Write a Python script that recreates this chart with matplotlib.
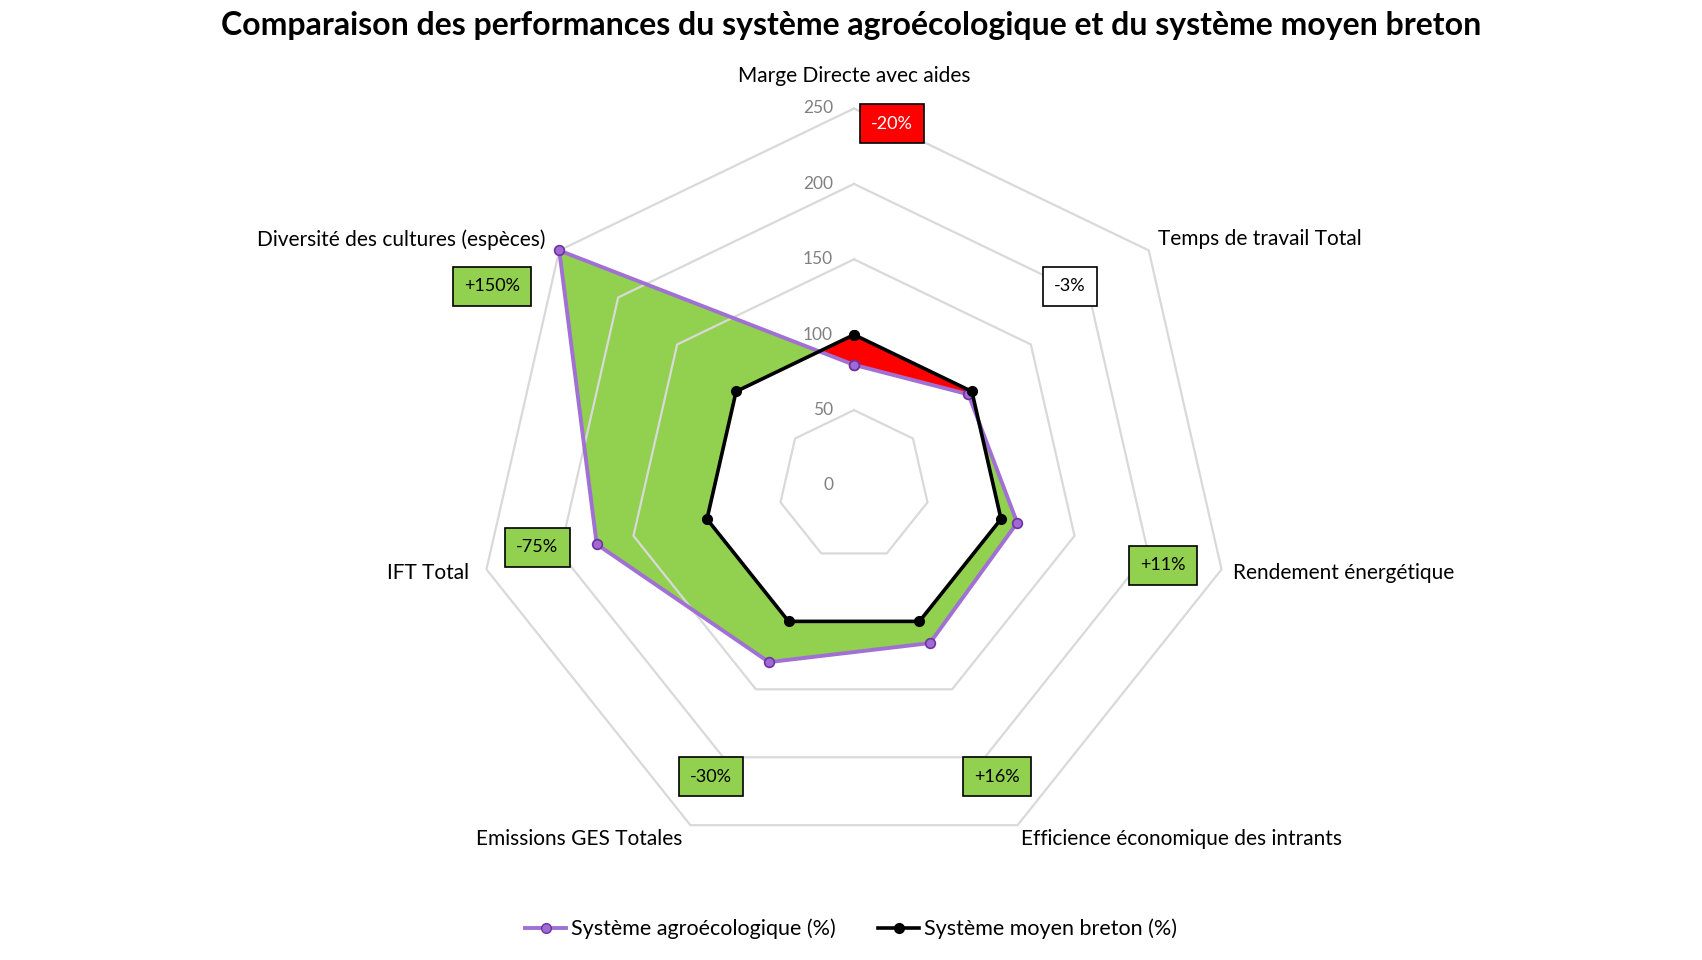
# -*- coding: utf-8 -*-
# Radar : système agroécologique vs système moyen breton
import numpy as np
import matplotlib.pyplot as plt
from matplotlib.patches import Polygon
from matplotlib.lines import Line2D

plt.rcParams['font.family'] = ['Lato', 'DejaVu Sans']

categories = ["Marge Directe avec aides", "Temps de travail Total",
              "Rendement énergétique", "Efficience économique des intrants",
              "Emissions GES Totales", "IFT Total", "Diversité des cultures (espèces)"]
agro = [80, 97, 111, 116, 130, 175, 250]
moyen = [100, 100, 100, 100, 100, 100, 100]
ecarts = ["-20%", "-3%", "+11%", "+16%", "-30%", "-75%", "+150%"]
ticks = [0, 50, 100, 150, 200, 250]

# where the boxes and labels go (data units / pixel offsets)
box_pos = [(25, 240), (143, 132), (205, -53), (95, -193), (-95, -193), (-210, -41), (-240, 132)]
box_col = ["#ff0000", "white", "#92d050", "#92d050", "#92d050", "#92d050", "#92d050"]
lab_off = [(0, 32, 'center'), (9, 11, 'left'), (11, -4, 'left'), (3, -14, 'left'),
           (-8, -14, 'right'), (-17, -4, 'right'), (-14, 11, 'right')]

n = len(categories)
ang = np.pi / 2 - 2 * np.pi * np.arange(n) / n


def xy(vals):
    v = np.asarray(vals, dtype=float)
    return np.column_stack([v * np.cos(ang), v * np.sin(ang)])


W, H = 1702, 960
cx, cy, scale = 854, 485.5, 377 / 250
fig = plt.figure(figsize=(W / 100, H / 100), dpi=100)
ax = fig.add_axes([0, 0, 1, 1])
ax.set_xlim(-cx / scale, (W - cx) / scale)
ax.set_ylim((cy - H) / scale, cy / scale)
ax.axis('off')

# fills
red = Polygon(xy(moyen), closed=True, fc="#ff0000", ec='none', zorder=2)
green = Polygon(xy(agro), closed=True, fc="#92d050", ec='none', zorder=3)
ax.add_patch(red)
ax.add_patch(green)
inner = Polygon(xy(moyen), closed=True, fc="white", ec='none', zorder=4)
ax.add_patch(inner)
inner.set_clip_path(green)

# grid
for t in ticks[1:]:
    p = xy([t] * n)
    p = np.vstack([p, p[:1]])
    ax.plot(p[:, 0], p[:, 1], color="#d9d9d9", lw=1.6, zorder=5)
for t in ticks:
    ax.annotate(str(t), (0, t), xytext=(-21, 0), textcoords='offset pixels',
                ha='right', va='center', fontsize=12.5, color="#808080", zorder=6)

# series
pa = xy(agro)
pa = np.vstack([pa, pa[:1]])
pm = xy(moyen)
pm = np.vstack([pm, pm[:1]])
ax.plot(pa[:, 0], pa[:, 1], color="#a070d4", lw=2.8, marker='o', ms=7,
        mfc="#9e6bd5", mec="#7030a0", mew=1.2, zorder=7)
ax.plot(pm[:, 0], pm[:, 1], color="black", lw=2.6, marker='o', ms=7,
        mfc="black", mec="black", zorder=8)

# category labels
outer = xy([250] * n)
for i, c in enumerate(categories):
    dx, dy, ha = lab_off[i]
    ax.annotate(c, outer[i], xytext=(dx, dy), textcoords='offset pixels',
                ha=ha, va='center', fontsize=15, color="black", zorder=9)

# percentage boxes
for i, e in enumerate(ecarts):
    tc = "white" if box_col[i] == "#ff0000" else "black"
    ax.text(box_pos[i][0], box_pos[i][1], e, ha='center', va='center', fontsize=13,
            color=tc, zorder=10,
            bbox=dict(boxstyle='square,pad=0.62', fc=box_col[i], ec='black', lw=1.2))

fig.text(0.5, 1 - 25 / H, "Comparaison des performances du système agroécologique et du système moyen breton",
         ha='center', va='center', fontsize=23, fontweight='bold')

handles = [Line2D([], [], color="#a070d4", lw=2.8, marker='o', ms=7, mfc="#9e6bd5", mec="#7030a0"),
           Line2D([], [], color="black", lw=2.6, marker='o', ms=7, mfc="black")]
fig.legend(handles, ["Système agroécologique (%)", "Système moyen breton (%)"],
           loc='center', bbox_to_anchor=(0.5, 1 - 929 / H), ncol=2, frameon=False,
           fontsize=15.5, handlelength=1.9, handletextpad=0.2, columnspacing=2.0)

fig.savefig("out.png", dpi=100)
